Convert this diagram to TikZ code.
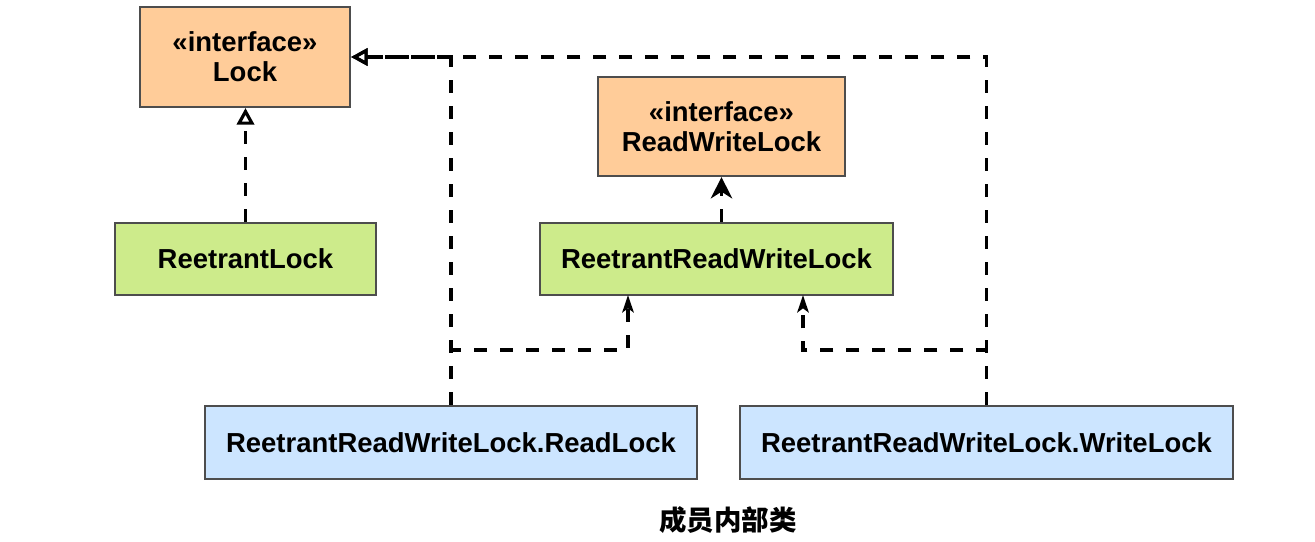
\documentclass[tikz,border=0pt]{standalone}
\usepackage{fontspec}
\setmainfont{Liberation Sans}
\newfontfamily\cjk{Noto Sans CJK SC}
\usetikzlibrary{arrows.meta}
\definecolor{orangefill}{HTML}{FFCC99}
\definecolor{greenfill}{HTML}{CDEB8B}
\definecolor{bluefill}{HTML}{CCE5FF}
\definecolor{boxline}{HTML}{4D4D4D}
\begin{document}
\begin{tikzpicture}[x=0.75pt,y=-0.75pt,
  box/.style={draw=boxline, line width=1.6pt, inner sep=0pt, align=center,
    font=\fontsize{20.6}{22.5}\selectfont\bfseries},
  iface/.style={box, fill=orangefill},
  cls/.style={box, fill=greenfill},
  inner/.style={box, fill=bluefill},
  dep/.style={line width=2.4pt, dash pattern=on 9.75pt off 9.75pt},
  realize/.style={dep, -{Triangle[open, length=12.5pt, width=13pt]}},
  bigtip/.style={dep, -{Stealth[length=16pt, width=16pt, inset=5pt]}},
  smalltip/.style={dep, -{Stealth[length=13pt, width=8.5pt, inset=3pt]}},
]
\useasboundingbox (0,0) rectangle (1315,542);

\node[iface, minimum width=157.5pt, minimum height=75pt] (Lock) at (245,57) {«interface»\\Lock};
\node[iface, minimum width=185.25pt, minimum height=74.25pt] (RWL) at (721.5,126.5) {«interface»\\ReadWriteLock};
\node[cls, minimum width=195.75pt, minimum height=54pt] (RL) at (245.5,259) {ReetrantLock};
\node[cls, minimum width=264.75pt, minimum height=54pt] (RRWL) at (716.5,259) {ReetrantReadWriteLock};
\node[inner, minimum width=369pt, minimum height=54.75pt] (RdL) at (451,442.5) {ReetrantReadWriteLock.ReadLock};
\node[inner, minimum width=369.75pt, minimum height=54.75pt] (WrL) at (986.5,442.5) {ReetrantReadWriteLock.WriteLock};
\node[font=\cjk\fontsize{20.6}{22.5}\selectfont\bfseries, inner sep=0pt] (cap) at (728,520) {成员内部类};

\coordinate (jr) at (451,350);
\coordinate (jw) at (987,350);
\coordinate (ra) at (628,295);
\coordinate (wa) at (803,295);

\draw[realize] (RL.north) -- (RL.north |- Lock.south);
\draw[realize] (RdL.north) |- (Lock.east);
\draw[realize] (WrL.north) |- (Lock.east);
\draw[bigtip] (RRWL.north -| RWL.south) -- (RWL.south);
\draw[smalltip] (RdL.north) -- (RdL.north |- jr) -| (ra);
\draw[smalltip] (WrL.north) -- (WrL.north |- jw) -| (wa);
\end{tikzpicture}
\end{document}
